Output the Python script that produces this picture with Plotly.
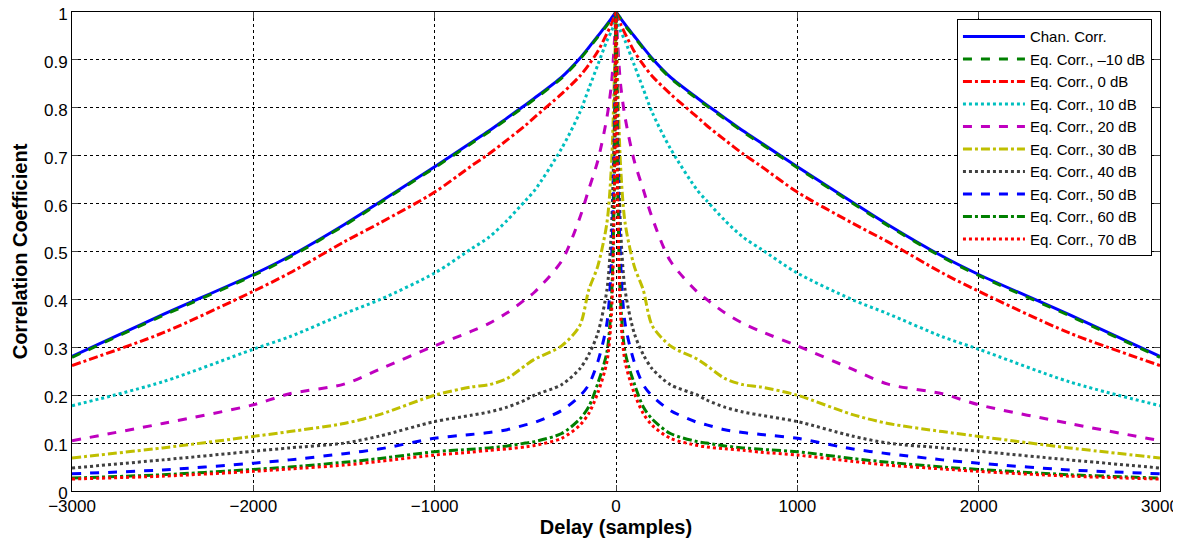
import plotly.graph_objects as go

# Positive-delay sample positions (curves are symmetric about 0)
delay_pos = [0, 10, 25, 50, 100, 150, 200, 300, 450, 500, 600, 700, 800, 1000, 1300, 1500, 1800, 2000, 2500, 3000]

chan_corr = [1.0, 0.995, 0.987, 0.974, 0.95, 0.926, 0.903, 0.864, 0.82, 0.806, 0.779, 0.752, 0.727, 0.677, 0.604, 0.556, 0.49, 0.452, 0.368, 0.281]
eq_m10 = [1.0, 0.994, 0.986, 0.972, 0.948, 0.924, 0.901, 0.862, 0.818, 0.804, 0.777, 0.75, 0.725, 0.675, 0.602, 0.554, 0.488, 0.45, 0.366, 0.279]
eq_0 = [1.0, 0.99, 0.975, 0.955, 0.918, 0.89, 0.866, 0.829, 0.78, 0.763, 0.733, 0.704, 0.678, 0.624, 0.56, 0.52, 0.455, 0.417, 0.33, 0.262]
eq_10 = [1.0, 0.975, 0.96, 0.94, 0.89, 0.84, 0.79, 0.715, 0.627, 0.606, 0.565, 0.53, 0.505, 0.455, 0.4, 0.37, 0.322, 0.296, 0.228, 0.178]
eq_20 = [1.0, 0.93, 0.85, 0.78, 0.69, 0.63, 0.57, 0.48, 0.415, 0.4, 0.372, 0.35, 0.333, 0.303, 0.255, 0.223, 0.203, 0.18, 0.141, 0.105]
eq_30 = [1.0, 0.85, 0.68, 0.56, 0.47, 0.42, 0.345, 0.303, 0.275, 0.262, 0.235, 0.222, 0.217, 0.2, 0.16, 0.141, 0.124, 0.114, 0.09, 0.069]
eq_40 = [1.0, 0.75, 0.55, 0.42, 0.33, 0.285, 0.255, 0.222, 0.2, 0.19, 0.175, 0.165, 0.158, 0.145, 0.115, 0.1, 0.09, 0.083, 0.065, 0.048]
eq_50 = [1.0, 0.7, 0.48, 0.35, 0.27, 0.222, 0.198, 0.168, 0.143, 0.138, 0.128, 0.122, 0.118, 0.11, 0.088, 0.078, 0.065, 0.058, 0.044, 0.036]
eq_60 = [1.0, 0.62, 0.4, 0.29, 0.225, 0.176, 0.15, 0.12, 0.103, 0.1, 0.094, 0.09, 0.087, 0.082, 0.068, 0.06, 0.05, 0.045, 0.034, 0.027]
eq_70 = [1.0, 0.6, 0.37, 0.27, 0.205, 0.162, 0.137, 0.11, 0.095, 0.092, 0.088, 0.085, 0.081, 0.075, 0.062, 0.054, 0.046, 0.041, 0.031, 0.025]

series_names = ["Chan. Corr.", "Eq. Corr., –10 dB", "Eq. Corr., 0 dB", "Eq. Corr., 10 dB",
                "Eq. Corr., 20 dB", "Eq. Corr., 30 dB", "Eq. Corr., 40 dB", "Eq. Corr., 50 dB",
                "Eq. Corr., 60 dB", "Eq. Corr., 70 dB"]
series_values = [chan_corr, eq_m10, eq_0, eq_10, eq_20, eq_30, eq_40, eq_50, eq_60, eq_70]
series_colors = ["#0000FF", "#008000", "#FF0000", "#00BFBF", "#BF00BF", "#BFBF00",
                 "#404040", "#0000FF", "#008000", "#FF0000"]
series_dash = ["solid", "dash", "dashdot", "dot", "dash", "dashdot", "dot", "dash", "dashdot", "dot"]

xticks = [-3000, -2000, -1000, 0, 1000, 2000, 3000]
yticks = [0, 0.1, 0.2, 0.3, 0.4, 0.5, 0.6, 0.7, 0.8, 0.9, 1]
yticktext = ["0", "0.1", "0.2", "0.3", "0.4", "0.5", "0.6", "0.7", "0.8", "0.9", "1"]

x_left = [-d for d in reversed(delay_pos)]

fig = go.Figure()
for name, vals, col, dash in zip(series_names, series_values, series_colors, series_dash):
    line = dict(color=col, width=3, dash=dash, shape="spline", smoothing=0.8)
    # left half (negative delays) and right half drawn separately to keep the sharp peak at 0
    fig.add_trace(go.Scatter(x=x_left, y=list(reversed(vals)), mode="lines", name=name,
                             legendgroup=name, showlegend=True, line=line))
    fig.add_trace(go.Scatter(x=delay_pos, y=vals, mode="lines", name=name,
                             legendgroup=name, showlegend=False, line=line))

font_family = "Liberation Sans, Arial, Helvetica, sans-serif"
# page body has an 8px default margin, so the figure is sized to fit the window
fig.update_layout(
    width=1173, height=533,
    margin=dict(l=64, r=21, t=4, b=50),
    paper_bgcolor="white", plot_bgcolor="white",
    font=dict(family=font_family, size=17, color="black"),
    showlegend=True,
    legend=dict(x=0.9926, y=0.985, xanchor="right", yanchor="top",
                bgcolor="white", bordercolor="black", borderwidth=1,
                font=dict(size=15, family=font_family, color="black"),
                tracegroupgap=0, itemwidth=62),
)
fig.update_xaxes(range=[-3000, 3000], tickvals=xticks, ticks="inside", ticklen=6,
                 showline=True, linecolor="black", linewidth=1, mirror="allticks",
                 showgrid=True, gridcolor="black", gridwidth=1, griddash="dot",
                 zeroline=False, tickfont=dict(size=17), automargin=False,
                 ticklabeloverflow="allow",
                 title=dict(text="<b>Delay (samples)</b>", font=dict(size=20), standoff=2))
fig.update_yaxes(range=[0, 1], tickvals=yticks, ticktext=yticktext,
                 ticks="inside", ticklen=6,
                 showline=True, linecolor="black", linewidth=1, mirror="allticks",
                 showgrid=True, gridcolor="black", gridwidth=1, griddash="dot",
                 zeroline=False, tickfont=dict(size=17), automargin=False,
                 ticklabeloverflow="allow", ticklabelshift=2,
                 title=dict(text="<b>Correlation Coefficient</b>", font=dict(size=20), standoff=10))

fig.write_html("out.html")
